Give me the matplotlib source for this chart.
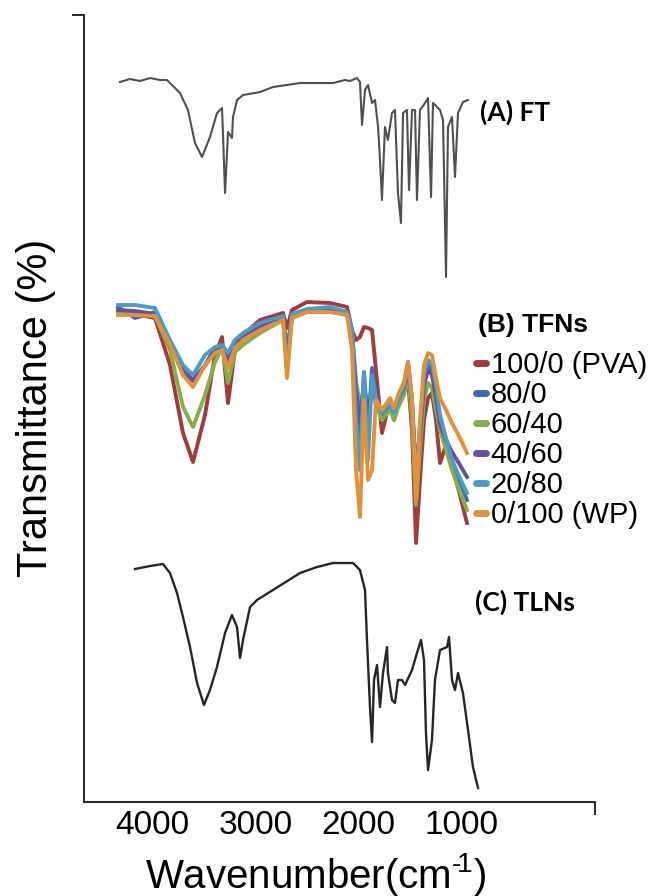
import numpy as np
import matplotlib
matplotlib.use("Agg")
import matplotlib.pyplot as plt
from matplotlib.lines import Line2D

plt.rcParams['font.family'] = ['Liberation Sans', 'DejaVu Sans']
plt.rcParams['mathtext.fontset'] = 'custom'
plt.rcParams['mathtext.rm'] = 'Liberation Sans'

# (A) FT spectrum, wavenumber (cm-1) and transmittance (arbitrary offset units)
ft_wn = [4310, 4213, 4116, 4019, 3923, 3855, 3729, 3652, 3584, 3516, 3439, 3371, 3322,
         3293, 3264, 3226, 3216, 3177, 3119, 2955, 2829, 2567, 2248, 2132, 2084, 2016,
         1987, 1967, 1938, 1909, 1870, 1841, 1812, 1793, 1774, 1745, 1716, 1677, 1648,
         1619, 1590, 1570, 1532, 1512, 1483, 1454, 1435, 1406, 1357, 1328, 1299, 1280,
         1241, 1212, 1183, 1154, 1135, 1096, 1067, 1038, 990, 941]
ft_t = [720, 723, 721, 724, 722, 722, 709, 692, 659, 645, 665, 689, 694,
        609, 670, 664, 685, 702, 707, 710, 715, 719, 719, 722, 721, 724,
        720, 677, 712, 717, 699, 702, 675, 642, 602, 675, 662, 689, 692,
        609, 579, 689, 692, 612, 692, 692, 602, 692, 699, 704, 605, 699,
        695, 692, 682, 525, 675, 685, 625, 689, 700, 702]

# (B) TFNs spectra
tfn_wn = [4329, 4165, 3971, 3826, 3700, 3603, 3487, 3390, 3322, 3264, 3197, 3119, 2955,
          2732, 2693, 2645, 2500, 2277, 2112, 2064, 2025, 1987, 1948, 1909, 1870, 1832,
          1774, 1696, 1657, 1619, 1561, 1522, 1483, 1444, 1406, 1367, 1328, 1290, 1251,
          1212, 1154, 1096, 1019, 951]
t_pva = [489, 488, 484, 437, 369, 340, 387, 447, 465, 399, 452, 467, 482, 489, 474, 492,
         500, 499, 495, 472, 462, 465, 475, 474, 472, 432, 369, 402, 382, 397, 410, 422,
         372, 259, 322, 382, 404, 409, 382, 339, 357, 337, 307, 279]
t_80 = [495, 484, 490, 457, 432, 422, 437, 454, 457, 442, 459, 467, 477, 485, 442, 487,
        492, 493, 489, 472, 402, 362, 430, 372, 434, 407, 387, 397, 387, 402, 417, 440,
        402, 329, 372, 422, 437, 432, 407, 379, 362, 342, 320, 302]
t_60 = [490, 489, 486, 452, 395, 375, 407, 440, 455, 419, 450, 457, 469, 482, 457, 484,
        490, 491, 487, 472, 422, 397, 412, 402, 410, 397, 382, 392, 382, 394, 407, 427,
        382, 297, 352, 402, 419, 414, 392, 372, 352, 332, 310, 292]
t_40 = [492, 491, 488, 457, 430, 421, 436, 452, 456, 437, 457, 465, 475, 484, 447, 486,
        491, 492, 488, 467, 412, 382, 417, 387, 417, 402, 390, 400, 390, 402, 414, 434,
        397, 317, 367, 417, 432, 427, 404, 377, 362, 350, 337, 325]
t_20 = [497, 497, 494, 462, 437, 427, 447, 455, 457, 449, 462, 469, 479, 486, 432, 488,
        493, 495, 490, 472, 382, 332, 430, 342, 427, 404, 389, 399, 389, 402, 416, 437,
        400, 312, 377, 427, 442, 439, 417, 387, 364, 342, 324, 309]
t_wp = [487, 487, 486, 457, 427, 415, 437, 449, 452, 434, 454, 462, 472, 482, 424, 484,
        490, 490, 487, 452, 332, 285, 402, 322, 332, 402, 392, 404, 394, 407, 420, 440,
        402, 302, 382, 437, 449, 447, 424, 404, 392, 379, 364, 349]
tfn_labels = ["100/0 (PVA)", "80/0", "60/40", "40/60", "20/80", "0/100 (WP)"]
tfn_colors = ["#A23B3B", "#4368B2", "#86AE48", "#6A4E9E", "#4A9CC6", "#E1913A"]

# (C) TLNs spectrum
tln_wn = [4165, 4019, 3894, 3826, 3758, 3700, 3632, 3564, 3497, 3439, 3371, 3293, 3226,
          3177, 3148, 3119, 3051, 2984, 2829, 2567, 2403, 2248, 2054, 1987, 1938, 1919,
          1890, 1870, 1851, 1822, 1793, 1764, 1725, 1716, 1677, 1648, 1619, 1580, 1551,
          1483, 1435, 1396, 1367, 1348, 1328, 1290, 1261, 1212, 1144, 1125, 1096, 1067,
          1038, 990, 941, 893, 844]
tln_t = [233, 236, 238, 229, 209, 185, 155, 119, 97, 112, 135, 169, 187, 175, 144, 162,
         195, 202, 212, 229, 235, 239, 239, 232, 212, 162, 95, 60, 122, 137, 95, 129,
         155, 129, 102, 99, 122, 122, 117, 132, 149, 162, 142, 69, 32, 62, 122, 152,
         155, 165, 122, 112, 129, 109, 72, 35, 14]

x_ticks = [4000, 3000, 2000, 1000]

fig = plt.figure(figsize=(6.57, 8.96), dpi=100)
ax = fig.add_axes([0.1279, 0.1049, 0.7777, 0.8789])

ax.plot(ft_wn, ft_t, color="#505050", lw=1.5)
tfn_series = [t_pva, t_80, t_60, t_40, t_20, t_wp]
for t, c in zip(tfn_series, tfn_colors):
    ax.plot(tfn_wn, t, color=c, lw=2.8, solid_joinstyle="round")
ax.plot(tln_wn, tln_t, color="#262626", lw=1.7)

ax.set_xlim(4658, -288)
ax.set_ylim(0, 787.5)

for s in ["top", "right"]:
    ax.spines[s].set_visible(False)
for s in ["left", "bottom"]:
    ax.spines[s].set_linewidth(1.2)

ax.set_xticks(x_ticks)
ax.set_xticklabels([str(v) for v in x_ticks], fontsize=24)
ax.tick_params(axis="x", which="major", length=0, pad=6)
ax.set_xticks([-288], minor=True)
ax.tick_params(axis="x", which="minor", length=9, width=1.2, direction="out")
ax.set_yticks([787.5])
ax.set_yticklabels([""])
ax.tick_params(axis="y", length=9, width=1.2, direction="out")

ax.set_ylabel("Transmittance (%)", fontsize=30, labelpad=8)
fig.text(316 / 657, 1 - 874 / 896, "Wavenumber(cm$^{\u2010\\!1}$)", fontsize=29,
         ha="center", va="center")

lab_font = dict(family=["Lato", "DejaVu Sans"], fontweight="bold", fontsize=19)
ax.text(825, 690, "(A) FT", ha="left", va="center", **lab_font)
ax.text(873, 200, "(C) TLNs", ha="left", va="center", **lab_font)
ax.text(844, 477, "(B) TFNs", ha="left", va="center", fontsize=19, fontweight="bold")

handles = [Line2D([], [], color=c, lw=5, solid_capstyle="round") for c in tfn_colors]
ax.legend(handles, tfn_labels, loc="upper left", frameon=False, fontsize=21,
          bbox_to_anchor=(476 / 657, 1 - 351 / 896), bbox_transform=fig.transFigure,
          handlelength=0.35, handletextpad=0.15, labelspacing=0.07,
          borderpad=0, borderaxespad=0)

fig.savefig("out.png", dpi=100)
